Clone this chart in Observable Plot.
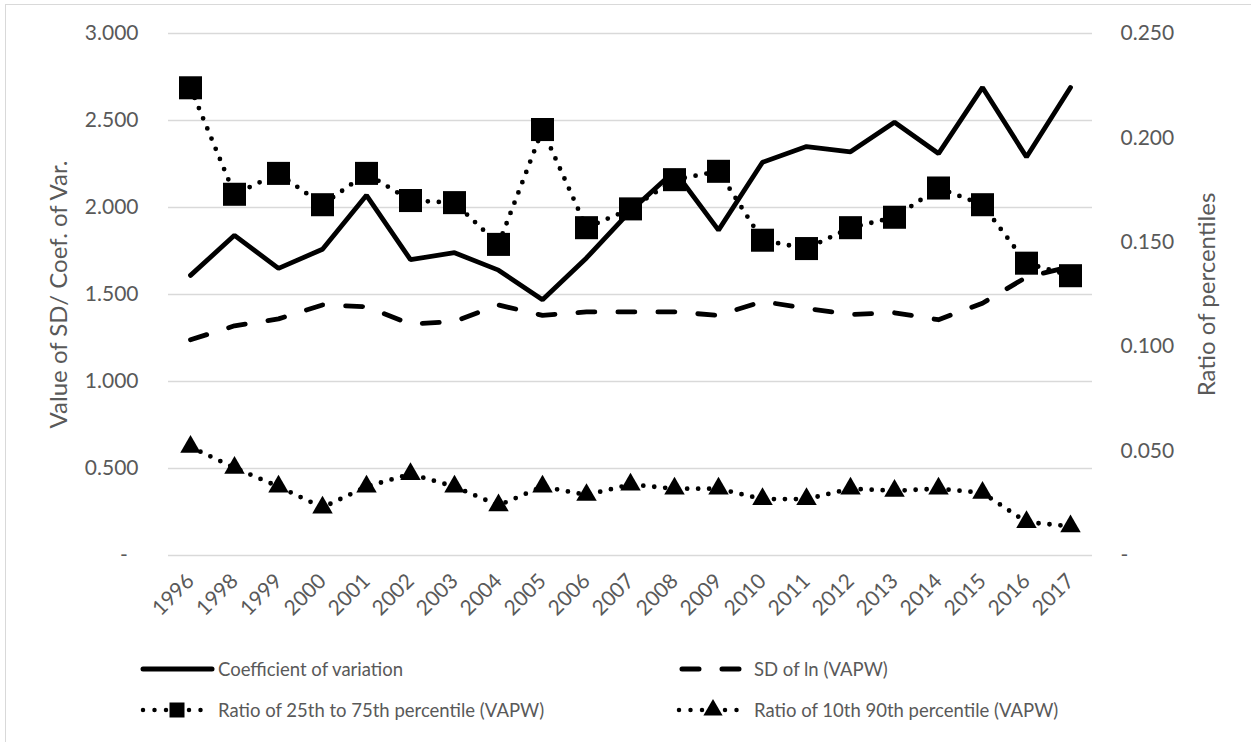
<!DOCTYPE html>
<html><head><meta charset="utf-8">
<script src="https://cdn.jsdelivr.net/npm/d3@7"></script>
<script src="https://cdn.jsdelivr.net/npm/@observablehq/plot@0.6"></script>
<style>
body{margin:0;background:#fff;}
#wrap{position:relative;width:1251px;height:742px;overflow:hidden;font-family:Lato,sans-serif;}
#border{position:absolute;left:5px;top:4px;width:1270px;height:770px;border:1.5px solid #d9d9d9;box-sizing:border-box;}
#chart{position:absolute;left:0;top:0;}
.leg{position:absolute;display:flex;align-items:center;font-size:18.5px;color:#595959;white-space:nowrap;height:30px;}
.leg svg{display:block;}
</style></head>
<body><div id="wrap"><div id="border"></div><div id="chart"></div><div id="legend"></div></div>
<script>
// ---- data ----
const years = ["1996","1998","1999","2000","2001","2002","2003","2004","2005","2006","2007","2008","2009","2010","2011","2012","2013","2014","2015","2016","2017"];
const coefVar = [1.61,1.84,1.65,1.76,2.07,1.70,1.74,1.64,1.47,1.71,1.98,2.21,1.87,2.26,2.35,2.32,2.49,2.31,2.69,2.29,2.69];
const sdLn = [1.24,1.32,1.36,1.44,1.43,1.33,1.345,1.44,1.38,1.40,1.40,1.40,1.38,1.46,1.42,1.385,1.395,1.355,1.45,1.60,1.66];
const ratio25to75 = [0.224,0.173,0.183,0.168,0.183,0.170,0.169,0.149,0.204,0.157,0.166,0.180,0.184,0.151,0.147,0.157,0.162,0.176,0.168,0.140,0.134];
const ratio10to90 = [0.052,0.042,0.033,0.023,0.033,0.039,0.033,0.024,0.033,0.029,0.034,0.032,0.032,0.027,0.027,0.032,0.031,0.032,0.030,0.016,0.014];
const leftTicks = [0,0.5,1,1.5,2,2.5,3];
const rightTicks = [0,0.05,0.1,0.15,0.2,0.25];
const leftTitle = "Value of SD/ Coef. of Var.";
const rightTitle = "Ratio of percentiles";
const seriesNames = ["Coefficient of variation","SD of ln (VAPW)","Ratio of 25th to 75th percentile (VAPW)","Ratio of 10th 90th percentile (VAPW)"];

const k = 3 / 0.25; // right-axis units -> left-axis units
const rows = years.map((year, i) => ({year, cv: coefVar[i], sd: sdLn[i], r2575: ratio25to75[i] * k, r1090: ratio10to90[i] * k}));
const fmt = d3.format(".3f");

const chart = Plot.plot({
  width: 1251, height: 640,
  marginLeft: 168, marginRight: 159, marginTop: 33, marginBottom: 85,
  style: {fontFamily: "Lato, sans-serif", fontSize: "21px", color: "#595959", background: "transparent"},
  x: {type: "point", domain: years, padding: 0.5, label: null},
  y: {domain: [0, 3], label: null},
  marks: [
    Plot.ruleY(leftTicks, {stroke: "#d9d9d9", strokeWidth: 1.5}),
    Plot.axisX({tickRotate: -45, tickSize: 0, tickPadding: 22, label: null, fontSize: 21}),
    Plot.axisY({anchor: "left", ticks: leftTicks, tickSize: 0, tickPadding: 30, fontSize: 21,
      tickFormat: d => d === 0 ? "-\u00a0\u00a0" : fmt(d), label: null}),
    Plot.axisY({anchor: "right", ticks: rightTicks.map(v => v * k), tickSize: 0, tickPadding: 28, fontSize: 21,
      tickFormat: d => d === 0 ? "-" : fmt(d / k), label: null}),
    Plot.text([leftTitle], {frameAnchor: "left", textAnchor: "middle", rotate: -90, dx: -109, fontSize: 24, fill: "#595959"}),
    Plot.text([rightTitle], {frameAnchor: "right", textAnchor: "middle", rotate: -90, dx: 115, fontSize: 24, fill: "#595959"}),
    Plot.line(rows, {x: "year", y: "cv", stroke: "black", strokeWidth: 4.8, strokeLinejoin: "miter"}),
    Plot.line(rows, {x: "year", y: "sd", stroke: "black", strokeWidth: 4.8, strokeDasharray: "17 23", strokeLinecap: "round"}),
    Plot.line(rows, {x: "year", y: "r2575", stroke: "black", strokeWidth: 4.8, strokeDasharray: "0 11", strokeLinecap: "round"}),
    Plot.dot(rows, {x: "year", y: "r2575", symbol: "square", r: 13, fill: "black"}),
    Plot.line(rows, {x: "year", y: "r1090", stroke: "black", strokeWidth: 4.8, strokeDasharray: "0 11", strokeLinecap: "round"}),
    Plot.dot(rows, {x: "year", y: "r1090", symbol: "triangle", r: 7.6, fill: "black"})
  ]
});
document.getElementById("chart").appendChild(chart);

// ---- legend ----
const legendItems = [
  {name: seriesNames[0], style: "solid", left: 140, top: 654},
  {name: seriesNames[1], style: "dash", left: 676, top: 654},
  {name: seriesNames[2], style: "square", left: 140, top: 695},
  {name: seriesNames[3], style: "triangle", left: 676, top: 695}
];
const legend = d3.select("#legend");
for (const it of legendItems) {
  const div = legend.append("div").attr("class", "leg").style("left", it.left + "px").style("top", it.top + "px");
  const svg = div.append("svg").attr("width", 76).attr("height", 30);
  if (it.style === "solid") {
    svg.append("line").attr("x1", 3).attr("x2", 72).attr("y1", 15).attr("y2", 15).attr("stroke", "black").attr("stroke-width", 5).attr("stroke-linecap", "round");
  } else if (it.style === "dash") {
    svg.append("line").attr("x1", 6).attr("x2", 70).attr("y1", 15).attr("y2", 15).attr("stroke", "black").attr("stroke-width", 5).attr("stroke-linecap", "round").attr("stroke-dasharray", "17 23");
  } else {
    svg.append("line").attr("x1", 3).attr("x2", 72).attr("y1", 15).attr("y2", 15).attr("stroke", "black").attr("stroke-width", 4.5).attr("stroke-linecap", "round").attr("stroke-dasharray", "0 11.5");
    const sym = it.style === "square" ? d3.symbolSquare : d3.symbolTriangle;
    const size = it.style === "square" ? 15 * 15 : 160;
    svg.append("path").attr("d", d3.symbol(sym, size)()).attr("transform", "translate(37,15)").attr("fill", "black");
  }
  div.append("span").style("margin-left", "2px").text(it.name);
}
</script>
</body></html>
